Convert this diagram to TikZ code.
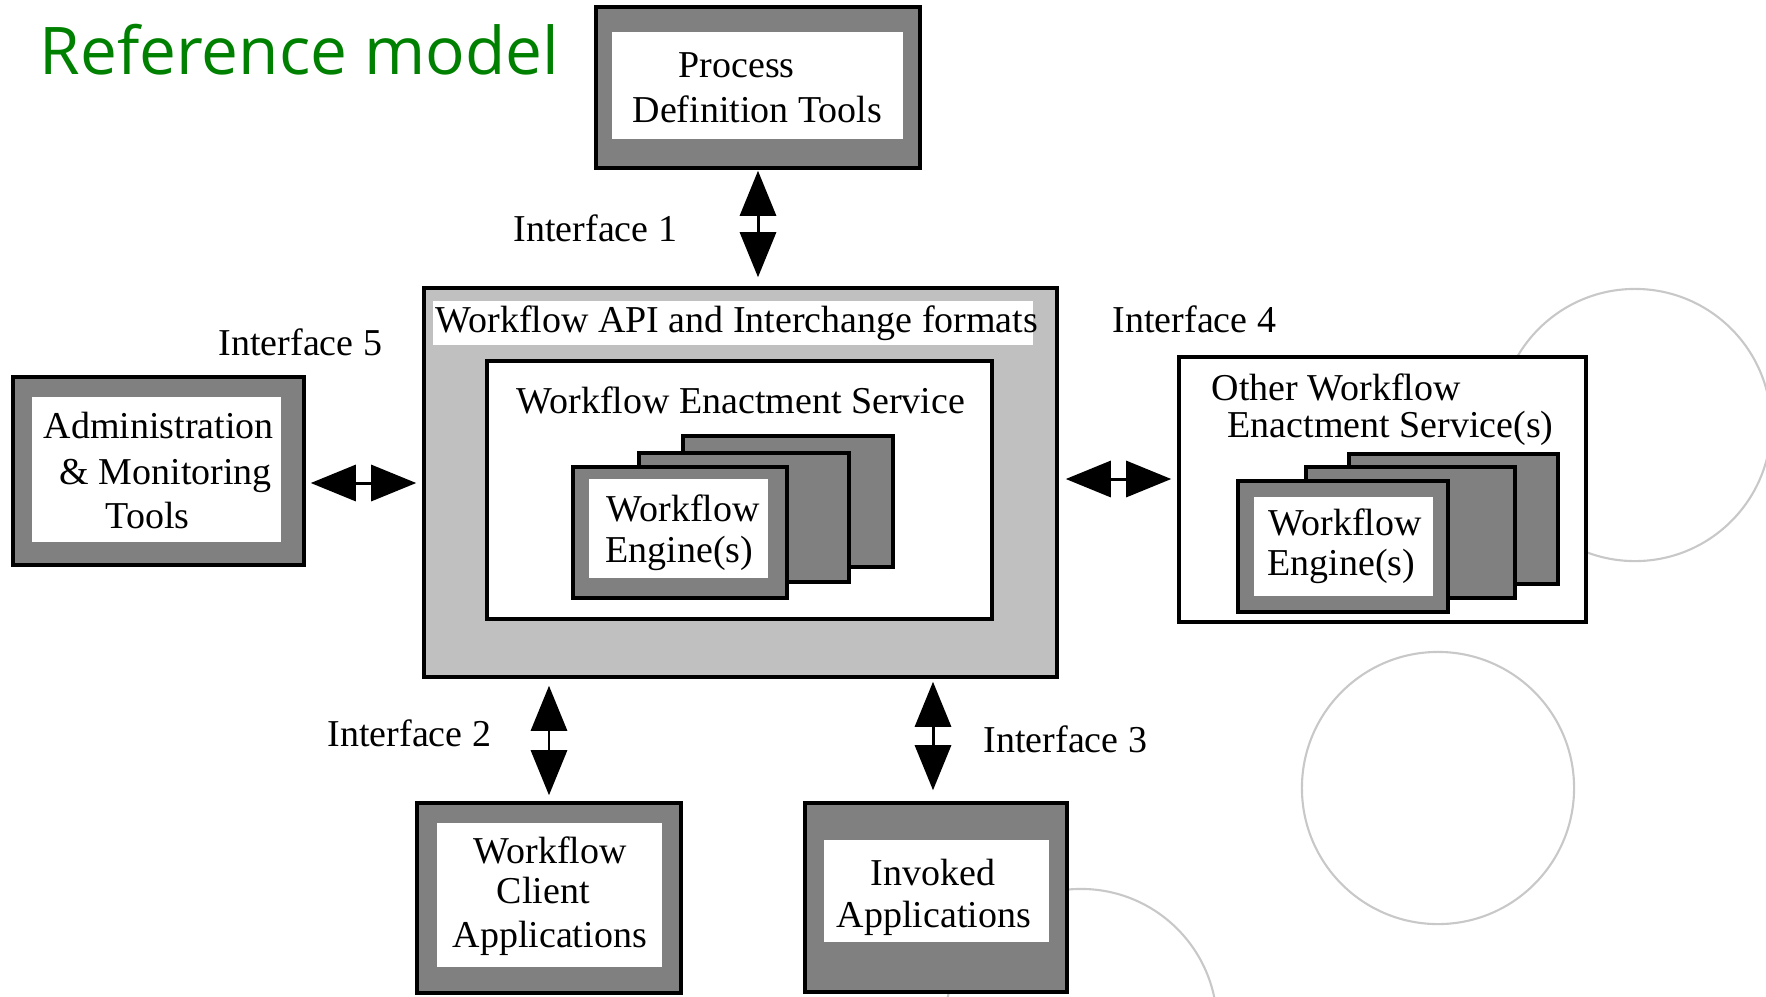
\documentclass[tikz,border=0pt]{standalone}
\usepackage{fontspec}
\setmainfont{Liberation Serif}
\newfontfamily\headfont{Open Sans}
\usetikzlibrary{arrows.meta,fit}
\definecolor{framegray}{HTML}{808080}
\definecolor{apigray}{HTML}{C0C0C0}
\definecolor{ringgray}{HTML}{C8C8C8}
\definecolor{headgreen}{HTML}{008000}

\begin{document}
\begin{tikzpicture}[x=0.01cm,y=-0.01cm,
  frame/.style={draw=black, line width=1pt, fill=framegray, inner sep=0pt},
  panel/.style={fill=white, inner sep=0pt},
  plain/.style={draw=black, line width=1pt, fill=white, inner sep=0pt},
  txt/.style={anchor=base west, inner sep=0pt, font=\fontsize{10.8}{12.5}\selectfont},
  ctxt/.style={txt, anchor=base},
  ring/.style={draw=ringgray, line width=0.6pt},
  dbl/.style={{Triangle[length=0.45cm,width=0.36cm]}-{Triangle[length=0.45cm,width=0.36cm]}, line width=0.85pt}
]
\useasboundingbox (0,0) rectangle (1766,996);

% light decorative rings in the background
\draw[ring] (1635,425) circle[radius=1.36cm];
\draw[ring] (1438,788) circle[radius=1.36cm];
\draw[ring] (1081,1025) circle[radius=1.36cm];

% title
\node[anchor=base west, inner sep=0pt, text=headgreen,
      font=\headfont\fontsize{18.7}{22}\selectfont] (title) at (39,74) {Reference model};

% process definition tools
\node[frame, fit={(596,7) (920,168)}] (pdt) {};
\node[panel, fit={(612,32) (903,139)}] (pdtin) {};
\node[txt] (pdt1) at (678,77) {Process};
\node[txt] (pdt2) at (632,122) {Definition Tools};

% central enactment service
\node[frame, fill=apigray, fit={(424,288) (1057,677)}] (api) {};
\node[panel, fit={(433,301) (1033,345)}] (apilbl) {};
\node[txt] (apitxt) at (435,332) {Workflow API and Interchange formats};
\node[plain, fit={(487,361) (992,619)}] (wes) {};
\node[txt] (westxt) at (516,413) {Workflow Enactment Service};
\node[frame, fit={(683,436) (893,567)}] (engAc) {};
\node[frame, fit={(639,453) (849,582)}] (engAb) {};
\node[frame, fit={(573,467) (787,598)}] (engAa) {};
\node[panel, fit={(589,479) (768,578)}] (engAin) {};
\node[txt] (engA1) at (606,521) {Workflow};
\node[txt] (engA2) at (605,562) {Engine(s)};

% administration and monitoring tools
\node[frame, fit={(13,377) (304,565)}] (adm) {};
\node[panel, fit={(32,397) (281,542)}] (admin) {};
\node[txt] (adm1) at (43,438) {Administration};
\node[txt] (adm2) at (59,484) {\& Monitoring};
\node[txt] (adm3) at (105,528) {Tools};

% other enactment services
\node[plain, fit={(1179,357) (1586,622)}] (oth) {};
\node[txt] (oth1) at (1211,400) {Other Workflow};
\node[txt] (oth2) at (1227,437) {Enactment Service(s)};
\node[frame, fit={(1349,454) (1558,584)}] (engBc) {};
\node[frame, fit={(1306,467) (1515,598)}] (engBb) {};
\node[frame, fit={(1238,481) (1448,612)}] (engBa) {};
\node[panel, fit={(1254,497) (1433,596)}] (engBin) {};
\node[txt] (engB1) at (1268,535) {Workflow};
\node[txt] (engB2) at (1267,575) {Engine(s)};

% client applications
\node[frame, fit={(417,803) (681,993)}] (cli) {};
\node[panel, fit={(437,823) (662,967)}] (cliin) {};
\node[txt] (cli1) at (473,863) {Workflow};
\node[txt] (cli2) at (496,903) {Client};
\node[txt] (cli3) at (452,947) {Applications};

% invoked applications
\node[frame, fit={(805,803) (1067,992)}] (inv) {};
\node[panel, fit={(824,840) (1049,942)}] (invin) {};
\node[ctxt] (inv1) at (933,885) {Invoked};
\node[ctxt] (inv2) at (934,927) {Applications};

% interface labels
\node[txt] (if1) at (513,241) {Interface 1};
\node[txt] (if2) at (327,746) {Interface 2};
\node[txt] (if3) at (983,752) {Interface 3};
\node[txt] (if4) at (1112,332) {Interface 4};
\node[txt] (if5) at (218,355) {Interface 5};

% interface arrows
\coordinate (r5) at (0,483);
\coordinate (r4) at (0,479);
\coordinate (c2) at (549,0);
\coordinate (c3) at (933,0);
\draw[dbl, shorten <=0.01cm, shorten >=0.09cm] (pdt.south) -- (pdt.south |- api.north);
\draw[dbl, shorten <=0.05cm, shorten >=0.06cm] (adm.east |- r5) -- (api.west |- r5);
\draw[dbl, shorten <=0.07cm, shorten >=0.06cm] (api.east |- r4) -- (oth.west |- r4);
\draw[dbl, shorten <=0.07cm, shorten >=0.06cm] (api.south -| c2) -- (cli.north -| c2);
\draw[dbl, shorten <=0.03cm, shorten >=0.11cm] (api.south -| c3) -- (inv.north -| c3);
\end{tikzpicture}
\end{document}
